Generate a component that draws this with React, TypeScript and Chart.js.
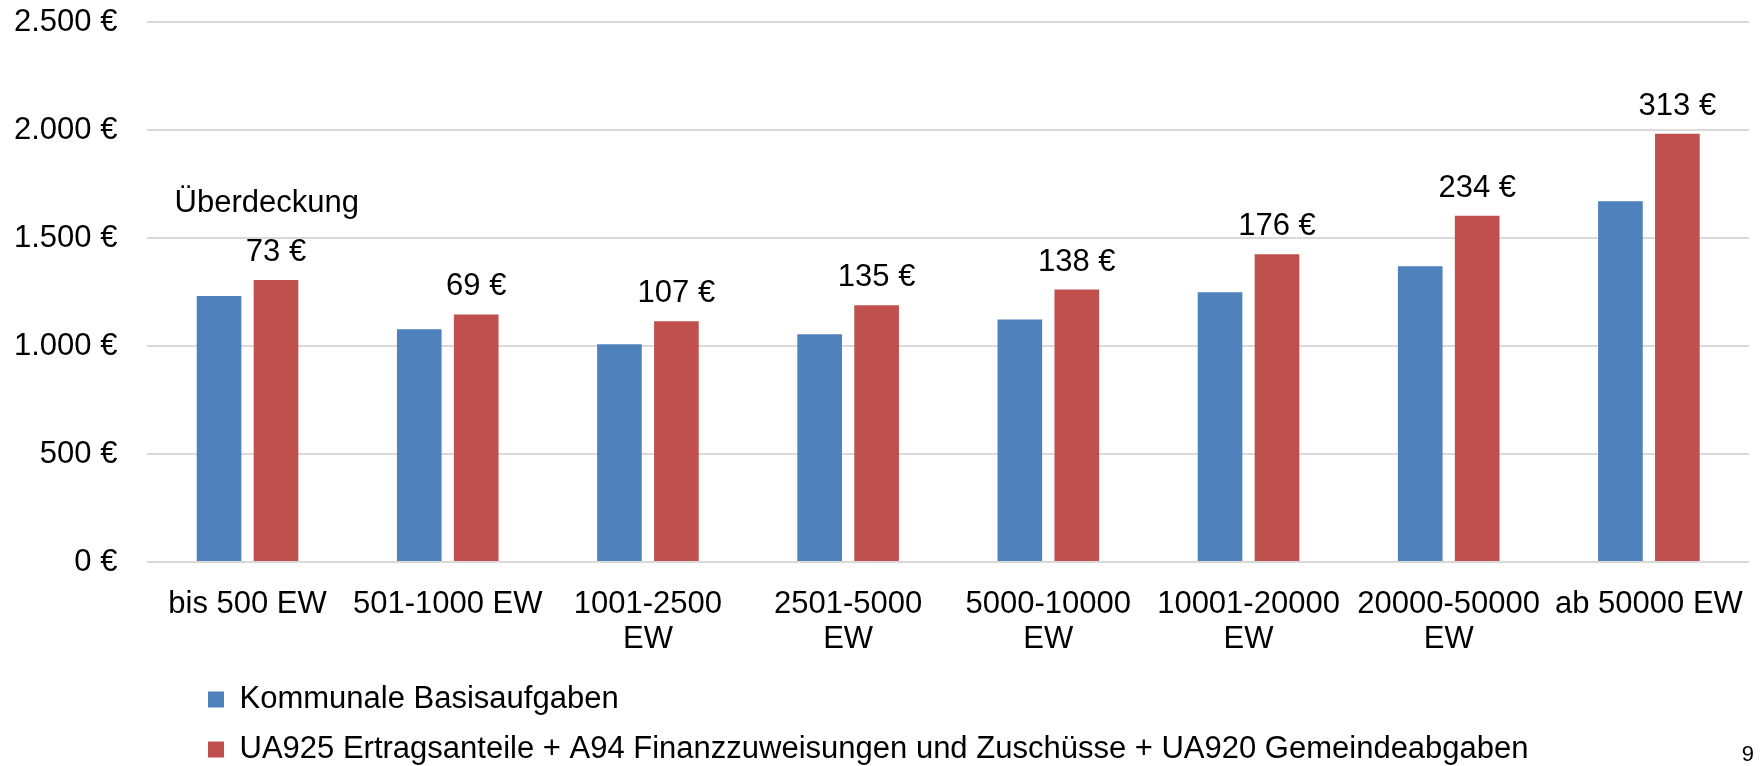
import React, { useEffect, useRef } from 'react';
import { Chart, registerables } from 'chart.js';

Chart.register(...registerables);

const categories: (string | string[])[] = [
  'bis 500 EW',
  '501-1000 EW',
  ['1001-2500', 'EW'],
  ['2501-5000', 'EW'],
  ['5000-10000', 'EW'],
  ['10001-20000', 'EW'],
  ['20000-50000', 'EW'],
  'ab 50000 EW',
];
const basisaufgaben = [1232, 1077, 1008, 1054, 1123, 1249, 1369, 1670];
const einnahmen = [1305, 1146, 1115, 1189, 1261, 1425, 1603, 1983];
const ueberdeckung = [73, 69, 107, 135, 138, 176, 234, 313];
const yTicks = [0, 500, 1000, 1500, 2000, 2500];
const seriesNames = [
  'Kommunale Basisaufgaben',
  'UA925 Ertragsanteile + A94 Finanzzuweisungen und Zuschüsse + UA920 Gemeindeabgaben',
];
const annotationText = 'Überdeckung';
const pageNumber = '9';

const FONT = '"Liberation Sans", Arial, sans-serif';
const BLUE = '#4F81BD';
const RED = '#C0504D';

function formatEuro(v: number): string {
  const s = String(Math.round(v)).replace(/\B(?=(\d{3})+(?!\d))/g, '.');
  return s + ' €';
}

const labelPlugin = {
  id: 'labelPlugin',
  afterLayout(chart: any) {
    if (chart.legend) {
      chart.legend.left += 175;
    }
  },
  afterDatasetsDraw(chart: any) {
    const ctx = chart.ctx;
    const meta = chart.getDatasetMeta(1);
    ctx.save();
    ctx.font = `31px ${FONT}`;
    ctx.fillStyle = '#000';
    ctx.textAlign = 'center';
    ctx.textBaseline = 'alphabetic';
    meta.data.forEach((bar: any, i: number) => {
      ctx.fillText(`${ueberdeckung[i]} €`, bar.x, bar.y - 19);
    });
    const xs = chart.scales.x;
    const ys = chart.scales.y;
    ctx.textAlign = 'left';
    ctx.fillText(annotationText, xs.getPixelForValue(0) - 73, ys.getPixelForValue(1622));
    ctx.font = `22px ${FONT}`;
    ctx.textAlign = 'right';
    ctx.fillText(pageNumber, chart.width - 7, 761);
    ctx.restore();
  },
};

export default function App() {
  const ref = useRef<HTMLCanvasElement | null>(null);
  useEffect(() => {
    if (!ref.current) return;
    const chart = new Chart(ref.current, {
      type: 'bar',
      data: {
        labels: categories as any,
        datasets: [
          {
            label: seriesNames[0],
            data: basisaufgaben,
            backgroundColor: BLUE,
            borderWidth: 0,
            categoryPercentage: 0.569,
            barPercentage: 0.784,
          },
          {
            label: seriesNames[1],
            data: einnahmen,
            backgroundColor: RED,
            borderWidth: 0,
            categoryPercentage: 0.569,
            barPercentage: 0.784,
          },
        ],
      },
      options: {
        animation: false,
        responsive: false,
        maintainAspectRatio: false,
        layout: { padding: { top: 22, left: 14, right: 12, bottom: 0 } },
        plugins: {
          tooltip: { enabled: false },
          legend: {
            display: true,
            position: 'bottom',
            align: 'start',
            labels: {
              boxWidth: 16,
              boxHeight: 16,
              padding: 19,
              color: '#000',
              font: { family: FONT, size: 31 },
            },
          },
        },
        scales: {
          x: {
            grid: { display: false, drawTicks: false },
            border: { display: false },
            ticks: {
              color: '#000',
              font: { family: FONT, size: 31, lineHeight: 35 / 31 },
              padding: 25,
              maxRotation: 0,
              minRotation: 0,
              autoSkip: false,
            },
            afterFit(scale: any) {
              scale.height -= 17;
              scale.paddingLeft = 0;
              scale.paddingRight = 0;
            },
          },
          y: {
            min: yTicks[0],
            max: yTicks[yTicks.length - 1],
            grid: { color: '#D9D9D9', lineWidth: 2, drawTicks: false },
            border: { display: false },
            afterBuildTicks(scale: any) {
              scale.ticks = yTicks.map((v) => ({ value: v }));
            },
            afterFit(scale: any) {
              scale.width -= 30;
              scale.paddingTop = 0;
              scale.paddingBottom = 0;
            },
            ticks: {
              color: '#000',
              font: { family: FONT, size: 31 },
              padding: 30,
              callback: (v: any) => formatEuro(Number(v)),
            },
          },
        },
      } as any,
      plugins: [labelPlugin],
    });
    return () => chart.destroy();
  }, []);

  return (
    <div
      style={{
        position: 'fixed',
        left: 0,
        top: 0,
        width: 1761,
        height: 766,
        overflow: 'hidden',
        background: '#fff',
      }}
    >
      <canvas ref={ref} width={1761} height={775} style={{ display: 'block' }} />
    </div>
  );
}
